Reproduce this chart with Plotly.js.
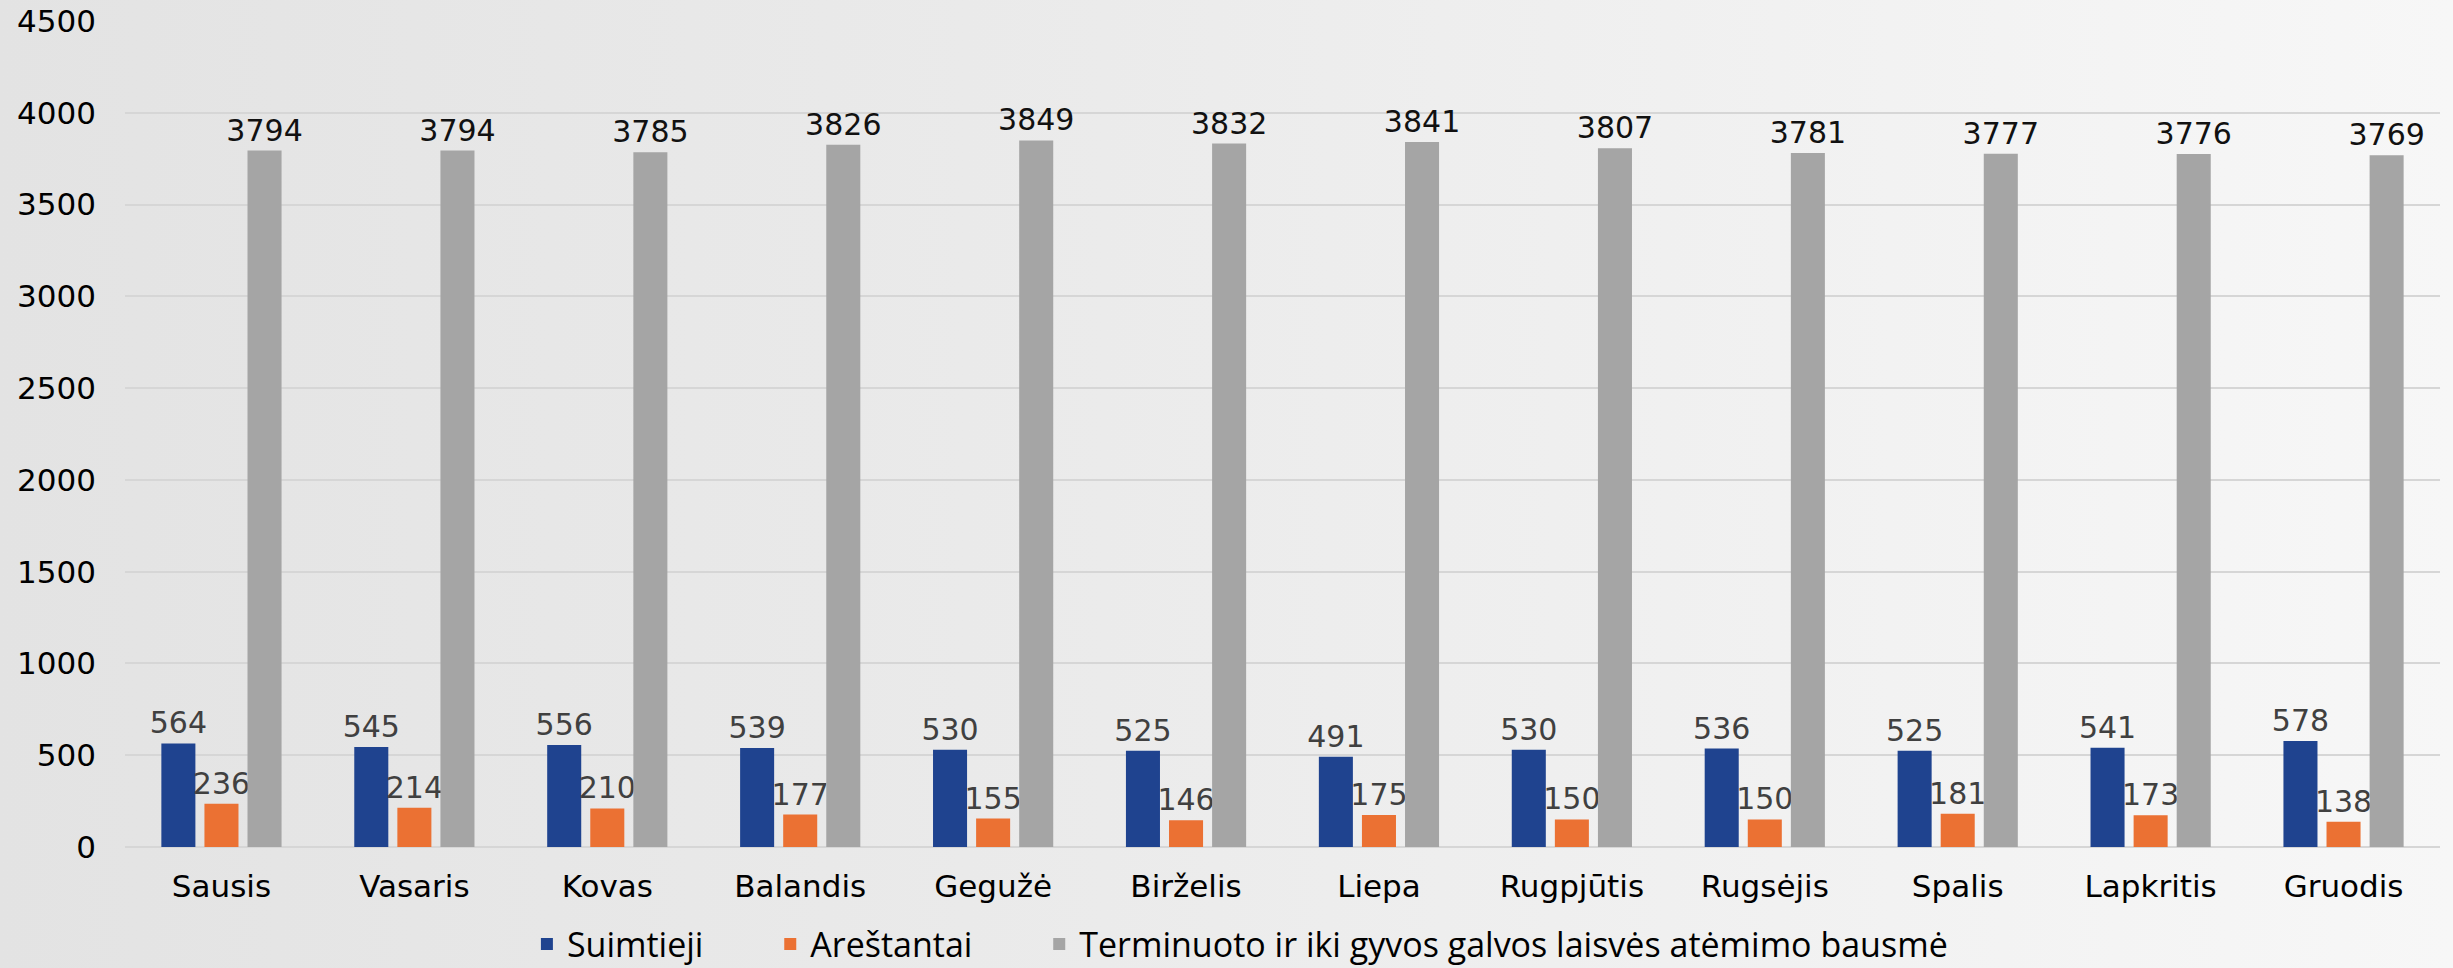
<!DOCTYPE html>
<html>
<head>
<meta charset="utf-8">
<script src="https://cdn.plot.ly/plotly-3.0.1.min.js"></script>
<style>
html,body{margin:0;padding:0;width:2453px;height:968px;overflow:hidden;
background:linear-gradient(90deg,#e3e3e3 0%,#ebebeb 45%,#f7f7f7 100%);}
#chart{width:2453px;height:1010px;}
</style>
</head>
<body>
<div id="chart"></div>
<script>
const months = ["Sausis","Vasaris","Kovas","Balandis","Gegužė","Birželis","Liepa","Rugpjūtis","Rugsėjis","Spalis","Lapkritis","Gruodis"];
const suimtieji = [564,545,556,539,530,525,491,530,536,525,541,578];
const arestantai = [236,214,210,177,155,146,175,150,150,181,173,138];
const terminuoto = [3794,3794,3785,3826,3849,3832,3841,3807,3781,3777,3776,3769];
const yTicks = [0,500,1000,1500,2000,2500,3000,3500,4000,4500];
const seriesNames = ["Suimtieji","Areštantai","Terminuoto ir iki gyvos galvos laisvės atėmimo bausmė"];

const FONT = "DejaVu Sans, sans-serif";
const LEGEND_FONT = "Open Sans, sans-serif";
const PAD = "\u00A0\u00A0\u00A0\u00A0\u00A0\u00A0\u00A0";
function series(name, y, color, tcolor){
  return {type:"bar", name:name, x:months, y:y,
    marker:{color:color},
    text:y.map(String), textposition:"outside", textangle:0,
    constraintext:"none", cliponaxis:false,
    textfont:{family:FONT,size:30,color:tcolor}};
}
const data = [
  series(seriesNames[0] + PAD, suimtieji, "#1f438f", "#404040"),
  series(seriesNames[1] + PAD, arestantai, "#eb7133", "#404040"),
  series(seriesNames[2], terminuoto, "#a5a5a5", "#111111")
];
const layout = {
  width:2453, height:1010,
  paper_bgcolor:"rgba(0,0,0,0)", plot_bgcolor:"rgba(0,0,0,0)",
  margin:{l:125,r:13,t:21,b:163},
  barmode:"group", bargap:0.33, bargroupgap:0.21,
  font:{family:FONT,color:"#000"},
  showlegend:true,
  legend:{orientation:"h", x:0.4816, xanchor:"center", y:-0.118, yanchor:"middle",
    font:{family:LEGEND_FONT,size:34,color:"#000"}, bgcolor:"rgba(0,0,0,0)", itemwidth:30, traceorder:"normal"},
  xaxis:{type:"category", showgrid:false, showline:false, zeroline:false,
    tickfont:{family:FONT,size:31,color:"#000"}, ticks:"", ticklabelstandoff:18},
  yaxis:{range:[0,4500], tickvals:yTicks, ticktext:yTicks.map(String),
    showgrid:true, gridcolor:"#d6d6d6", gridwidth:2, zeroline:true, zerolinecolor:"#d6d6d6", zerolinewidth:2,
    showline:false, ticks:"", tickfont:{family:FONT,size:31,color:"#000"}, ticklabelstandoff:28}
};
Plotly.newPlot("chart", data, layout, {displayModeBar:false, staticPlot:true});
</script>
</body>
</html>
